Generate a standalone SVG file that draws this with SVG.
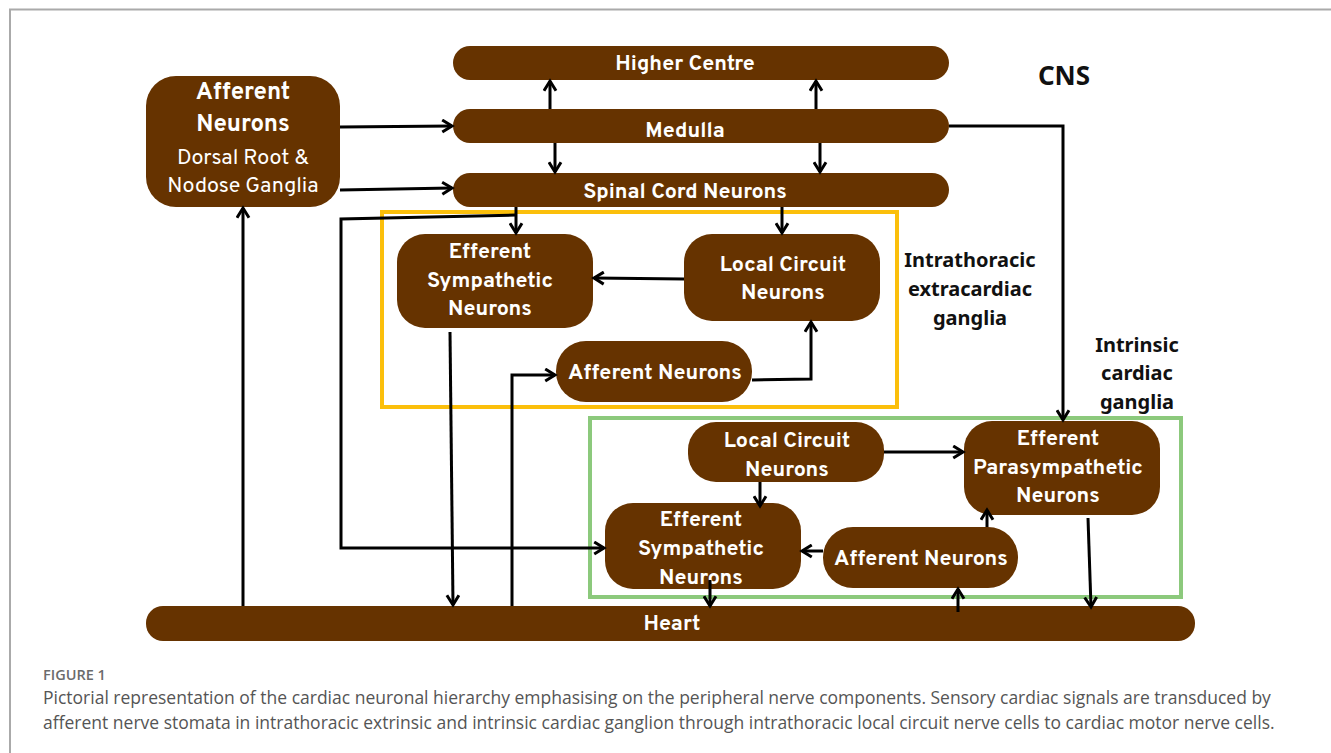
<svg xmlns="http://www.w3.org/2000/svg" width="1331" height="753" viewBox="0 0 1331 753">
<defs>
<marker id="ah" viewBox="0 0 10 10" refX="8" refY="5" markerWidth="5" markerHeight="5" orient="auto" markerUnits="strokeWidth">
<path d="M1.5,1 L8,5 L1.5,9" fill="none" stroke="#000" stroke-width="2"/>
</marker>
<style>
.n{fill:#663300}
.t{font-family:"Overpass","Noto Sans","Liberation Sans",sans-serif;font-weight:700;font-size:21.5px;fill:#fff;text-anchor:middle}
.r{font-weight:400}
.l{font-family:"Noto Sans","Liberation Sans",sans-serif;font-weight:700;font-size:20px;fill:#111;text-anchor:middle}
.c{fill:none;stroke:#000;stroke-width:3;marker-end:url(#ah)}
.cap{font-family:"Open Sans","Noto Sans",sans-serif;font-size:17.5px;fill:#555}
</style>
</defs>
<rect width="1331" height="753" fill="#fff"/>
<path d="M10,753 V9.5 H1331" fill="none" stroke="#aaa" stroke-width="2"/>

<g id="higher-centre"><rect class="n" x="453" y="46" width="496" height="34" rx="17"/><text class="t" x="685" y="69.5">Higher Centre</text></g>
<g id="medulla"><rect class="n" x="453" y="109" width="496" height="34" rx="17"/><text class="t" x="685" y="136.5">Medulla</text></g>
<g id="spinal-cord"><rect class="n" x="453" y="173" width="496" height="34" rx="17"/><text class="t" x="685" y="197.5">Spinal Cord Neurons</text></g>
<g id="afferent-drg"><rect class="n" x="146" y="76" width="194" height="131" rx="30"/>
<text class="t" x="243" y="99" style="font-size:24px">Afferent</text><text class="t" x="243" y="131" style="font-size:24px">Neurons</text>
<text class="t r" x="243" y="164">Dorsal Root &amp;</text><text class="t r" x="243" y="192">Nodose Ganglia</text></g>
<text class="l" x="1064" y="85" style="font-size:26px">CNS</text>

<g id="intrathoracic-box"><rect x="382" y="212" width="515" height="195" fill="none" stroke="#fbbf0b" stroke-width="4"/>
<text class="l" x="970" y="267">Intrathoracic</text><text class="l" x="970" y="296">extracardiac</text><text class="l" x="970" y="325">ganglia</text></g>
<g id="intrinsic-box"><rect x="590" y="418" width="591" height="179" fill="none" stroke="#8cc97c" stroke-width="4"/>
<text class="l" x="1137" y="352">Intrinsic</text><text class="l" x="1137" y="380">cardiac</text><text class="l" x="1137" y="409">ganglia</text></g>

<g id="eff-symp-1"><rect class="n" x="397" y="234" width="196" height="94" rx="28"/>
<text class="t" x="490" y="258">Efferent</text><text class="t" x="490" y="287">Sympathetic</text><text class="t" x="490" y="315">Neurons</text></g>
<g id="local-circuit-1"><rect class="n" x="684" y="234" width="196" height="87" rx="28"/>
<text class="t" x="783" y="271">Local Circuit</text><text class="t" x="783" y="299">Neurons</text></g>
<g id="afferent-1"><rect class="n" x="556" y="341" width="196" height="61" rx="30"/>
<text class="t" x="655" y="379">Afferent Neurons</text></g>

<g id="local-circuit-2"><rect class="n" x="688" y="422" width="196" height="60" rx="28"/>
<text class="t" x="787" y="447">Local Circuit</text><text class="t" x="787" y="476">Neurons</text></g>
<g id="eff-parasymp"><rect class="n" x="964" y="421" width="196" height="94" rx="28"/>
<text class="t" x="1058" y="445">Efferent</text><text class="t" x="1058" y="474">Parasympathetic</text><text class="t" x="1058" y="502">Neurons</text></g>
<g id="eff-symp-2"><rect class="n" x="605" y="503" width="196" height="86" rx="28"/>
<text class="t" x="701" y="526">Efferent</text><text class="t" x="701" y="555">Sympathetic</text><text class="t" x="701" y="584">Neurons</text></g>
<g id="afferent-2"><rect class="n" x="823" y="527" width="195" height="61" rx="30"/>
<text class="t" x="921" y="565">Afferent Neurons</text></g>
<g id="heart"><rect class="n" x="146" y="606" width="1049" height="35" rx="17"/>
<text class="t" x="672" y="629.5">Heart</text></g>

<g id="connectors">
<path class="c" d="M340,127 L452,126"/>
<path class="c" d="M340,190 L452,188"/>
<path class="c" d="M550,109 V81"/>
<path class="c" d="M816,109 V81"/>
<path class="c" d="M555,143 V172"/>
<path class="c" d="M820,143 V172"/>
<path class="c" d="M949,126 H1063 V420"/>
<path class="c" d="M516,207 V233"/>
<path class="c" d="M782,207 V233"/>
<path class="c" d="M516,215 L341,219 V548 H604"/>
<path class="c" d="M684,279 L594,278"/>
<path class="c" d="M752,380 L811,379 V322"/>
<path class="c" d="M512,606 V375 H555"/>
<path class="c" d="M450,332 L453,605"/>
<path class="c" d="M243,606 V208"/>
<path class="c" d="M884,452 H963"/>
<path class="c" d="M760,482 V506"/>
<path class="c" d="M823,551 H802"/>
<path class="c" d="M987,527 V510"/>
<path class="c" d="M958,612 V589"/>
<path class="c" d="M710,580 V606"/>
<path class="c" d="M1088,518 L1091,607"/>
</g>

<text x="43" y="680" style="font-family:'Open Sans','Noto Sans',sans-serif;font-weight:600;font-size:14.5px;fill:#6b6b6b">FIGURE 1</text>
<text class="cap" x="43" y="704">Pictorial representation of the cardiac neuronal hierarchy emphasising on the peripheral nerve components. Sensory cardiac signals are transduced by</text>
<text class="cap" x="43" y="729">afferent nerve stomata in intrathoracic extrinsic and intrinsic cardiac ganglion through intrathoracic local circuit nerve cells to cardiac motor nerve cells.</text>
</svg>
